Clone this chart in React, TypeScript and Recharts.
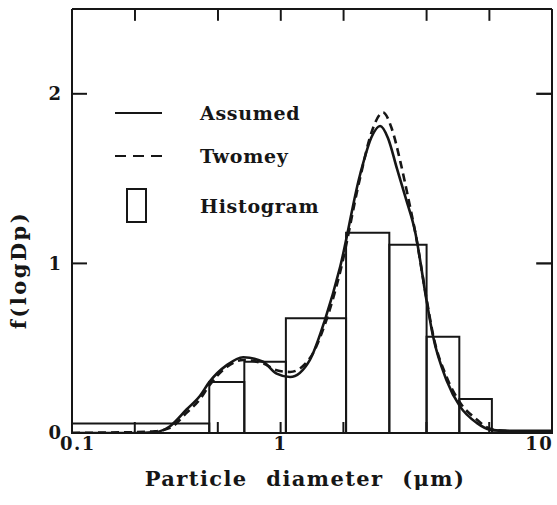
import { ComposedChart, Line, XAxis, YAxis, ReferenceArea, Legend } from "recharts"

const FONT = "'DejaVu Serif', 'Liberation Serif', serif"
const INK = "#161616"

// particle diameter (um) / f(logDp)
const assumedD = [0.1, 0.2, 0.25, 0.295, 0.355, 0.411, 0.455, 0.552, 0.662, 0.824, 0.957, 1.11, 1.38, 1.63, 1.93, 2.4, 2.74, 3.0, 3.27, 3.61, 3.99, 4.41, 5.01, 5.38, 6.25, 7.24, 8.71, 10.1, 12.6, 20]
const assumedF = [0, 0, 0.005, 0.04, 0.14, 0.22, 0.3, 0.4, 0.447, 0.42, 0.35, 0.33, 0.43, 0.666, 0.98, 1.52, 1.75, 1.81, 1.74, 1.56, 1.38, 1.19, 0.78, 0.57, 0.31, 0.157, 0.06, 0.02, 0.01, 0.005]

const twomeyD = [0.1, 0.15, 0.2, 0.25, 0.295, 0.355, 0.411, 0.455, 0.552, 0.662, 0.824, 0.957, 1.11, 1.38, 1.63, 1.93, 2.4, 2.74, 3.1, 3.4, 3.75, 4.1, 4.41, 5.01, 5.38, 6.25, 7.24, 8.71, 10.1, 12.6, 20]
const twomeyF = [0, 0.003, 0.005, 0.01, 0.03, 0.12, 0.2, 0.28, 0.39, 0.43, 0.41, 0.37, 0.36, 0.44, 0.64, 0.95, 1.5, 1.78, 1.89, 1.8, 1.6, 1.38, 1.19, 0.79, 0.58, 0.33, 0.18, 0.08, 0.025, 0.01, 0.005]

// histogram bin edges (um) and bin heights
const histEdges = [0.1, 0.455, 0.67, 1.06, 2.06, 3.32, 5.01, 7.19, 10.3, 20]
const histValues = [0.056, 0.3, 0.42, 0.677, 1.18, 1.11, 0.568, 0.2, 0.015]

const xTicks = [0.1, 0.2, 0.5, 1, 2, 5, 10]
const xTickLabels: Record<number, string> = { 0.1: "0.1", 1: "1", 10: "10" }
const yTicks = [0, 1, 2]

const legendItems = [
    { name: "Assumed", kind: "solid" },
    { name: "Twomey", kind: "dashed" },
    { name: "Histogram", kind: "box" },
]

const X_MIN = 0.1
const X_MAX = 20
const Y_MAX = 2.5
// inward tick marks on the top/right frame, drawn as hairline areas (sizes in data units)
const TOP_TICK_LEN = 0.065
const TOP_TICK_W = 1.004
const RIGHT_TICK_RATIO = 1.18
const RIGHT_TICK_H = 0.002

const assumedData = assumedD.map((d, i) => ({ d, f: assumedF[i] }))
const twomeyData = twomeyD.map((d, i) => ({ d, f: twomeyF[i] }))
const bins = histValues.map((v, i) => ({ x1: histEdges[i], x2: histEdges[i + 1], v }))

const textStyle = { fontFamily: FONT, fontWeight: 700, fill: INK }

const XTick = (props: any) => {
    const { x, y, payload } = props
    const label = xTickLabels[payload.value]
    if (!label) return null
    // the scan prints "10" out at the right frame rather than under its tick
    const dx = payload.value === 10 ? 50 : payload.value === 0.1 ? 6 : 0
    return (
        <text x={x + dx} y={y + 13} textAnchor="middle" fontSize={18} letterSpacing={1.5} {...textStyle}>{label}</text>
    )
}

const XTitle = (props: any) => {
    const { x, width, y } = props.viewBox
    return (
        <text x={x + width / 2 - 7} y={y + 53} textAnchor="middle" fontSize={21} letterSpacing={1.4} wordSpacing={10} {...textStyle}>
            Particle diameter (μm)
        </text>
    )
}

const YTitle = () => (
    <text x={18} y={270} transform="rotate(-90 18 270)" textAnchor="middle" dominantBaseline="central" fontSize={21} letterSpacing={2.5} {...textStyle}>
        f(logDp)
    </text>
)

const LegendBox = () => (
    <svg width={240} height={140} style={{ display: "block" }}>
        {legendItems.map((item, i) => {
            const cy = [18, 61, 111][i]
            return (
                <g key={item.name}>
                    {item.kind === "solid" && <line x1={5} x2={52} y1={cy} y2={cy} stroke={INK} strokeWidth={2} />}
                    {item.kind === "dashed" && <line x1={5} x2={52} y1={cy} y2={cy} stroke={INK} strokeWidth={2} strokeDasharray="11 7" />}
                    {item.kind === "box" && <rect x={17} y={cy - 17} width={19} height={33} fill="none" stroke={INK} strokeWidth={2} />}
                    <text x={90} y={cy} dominantBaseline="central" fontSize={19} letterSpacing={0.7} {...textStyle}>{item.name}</text>
                </g>
            )
        })}
    </svg>
)

const axisLine = { stroke: INK, strokeWidth: 2 }

export default function App() {
    return (
        <div style={{ position: "absolute", left: 0, top: 0, background: "#fff" }}>
            <ComposedChart width={557} height={505} margin={{ top: 8, right: 4, left: 0, bottom: 0 }}>
                <XAxis dataKey="d" type="number" scale="log" domain={[X_MIN, X_MAX]} allowDataOverflow ticks={xTicks} interval={0}
                    height={72} axisLine={axisLine} tickLine={axisLine} tickSize={-11} tickMargin={15} tick={<XTick />} label={XTitle} />
                <XAxis xAxisId="top" orientation="top" dataKey="d" type="number" scale="log" domain={[X_MIN, X_MAX]} allowDataOverflow
                    height={1} axisLine={axisLine} tickLine={false} tick={false} />
                <YAxis type="number" domain={[0, Y_MAX]} allowDataOverflow ticks={yTicks} interval={0} width={72} axisLine={axisLine} tickLine={axisLine}
                    tickSize={-15} tickMargin={26} tick={{ fontSize: 18, ...textStyle }} label={YTitle} />
                <YAxis yAxisId="right" orientation="right" type="number" domain={[0, Y_MAX]} allowDataOverflow width={1}
                    axisLine={axisLine} tickLine={false} tick={false} />
                {xTicks.slice(1).map((t) => (
                    <ReferenceArea key={"tt" + t} ifOverflow="visible" x1={t} x2={t * TOP_TICK_W} y1={Y_MAX - TOP_TICK_LEN} y2={Y_MAX}
                        fill={INK} fillOpacity={1} stroke={INK} strokeWidth={1.6} />
                ))}
                {yTicks.slice(1).map((t) => (
                    <ReferenceArea key={"rt" + t} ifOverflow="visible" x1={X_MAX / RIGHT_TICK_RATIO} x2={X_MAX} y1={t - RIGHT_TICK_H} y2={t + RIGHT_TICK_H}
                        fill={INK} fillOpacity={1} stroke={INK} strokeWidth={1.6} />
                ))}
                {bins.map((b) => (
                    <ReferenceArea key={b.x1} x1={b.x1} x2={b.x2} y1={0} y2={b.v} fill="none" fillOpacity={0} stroke={INK} strokeWidth={2} />
                ))}
                <Line data={assumedData} dataKey="f" type="monotone" stroke={INK} strokeWidth={2.6} dot={false} activeDot={false} isAnimationActive={false} />
                <Line data={twomeyData} dataKey="f" type="monotone" stroke={INK} strokeWidth={2.6} strokeDasharray="8 5" dot={false} activeDot={false} isAnimationActive={false} />
                <Legend verticalAlign="middle" align="center" layout="horizontal" wrapperStyle={{ position: "absolute", left: 110, top: 95, width: 240, height: 140 }} content={() => <LegendBox />} />
            </ComposedChart>
        </div>
    )
}
